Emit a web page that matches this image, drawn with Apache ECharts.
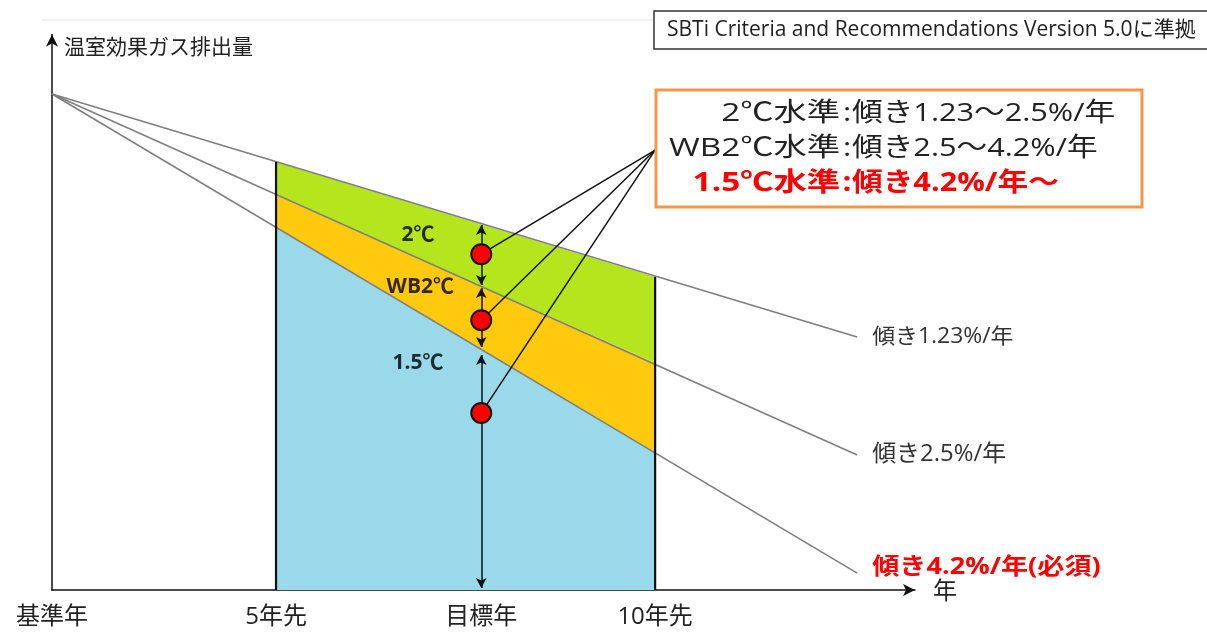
<!DOCTYPE html>
<html><head><meta charset="utf-8">
<script src="https://cdn.jsdelivr.net/npm/echarts@6.0.0/dist/echarts.min.js"></script>
<style>html,body{margin:0;padding:0;background:#fff}#c{width:1207px;height:633px}</style>
</head><body><div id="c"></div>
<script>
// ---- data ----
const xTickValues = [0, 5, 9.58, 13.46];
const xTickLabels = ['基準年', '5年先', '目標年', '10年先'];
const slopeNames = ['傾き1.23%/年', '傾き2.5%/年', '傾き4.2%/年(必須)'];
const baseValue = [0, 100];
const lineEndX = 17.97;
const lineEndY = [51.0, 27.2, 3.4];
const bandX = [5, 13.46];
const line1At = [86.3, 63.1];
const line2At = [79.6, 45.8];
const line3At = [73.0, 27.8];
const zeroAt = [0, 0];
const targetX = 9.58;
const arrowSegments = [[73.6, 61.5], [60.9, 49.0], [47.4, 0.4]];
const dotValues = [67.7, 54.4, 35.7];
const leaderTarget = [13.46, 88.7];
const zoneNames = ['2℃', 'WB2℃', '1.5℃'];
const zoneX = [8.17, 8.22, 8.17];
const zoneY = [71.5, 61.0, 45.8];
const calloutLeft = ['2℃水準', 'WB2℃水準', '1.5℃水準'];
const calloutRight = ['傾き1.23～2.5%/年', '傾き2.5～4.2%/年', '傾き4.2%/年～'];
const noteText = 'SBTi Criteria and Recommendations Version 5.0に準拠';
const yAxisName = '温室効果ガス排出量';
const xAxisName = '年';

const FONT = '"Noto Sans CJK JP", "Noto Sans", sans-serif';
const MIXED = '"Open Sans", "Noto Sans CJK JP", sans-serif';
const chart = echarts.init(document.getElementById('c'), null, {renderer: 'canvas'});

const bandColors = ['#99d9ea', '#ffc90e', '#b5e61d'];
const bands = [[zeroAt, line3At], [line3At, line2At], [line2At, line1At]];

const series = [];
// bands
series.push({
  type: 'custom', z: 1, silent: true,
  data: bands.map(b => [bandX[0], bandX[1], b[0][0], b[0][1], b[1][0], b[1][1]]),
  renderItem: function (params, api) {
    const x0 = api.value(0), x1 = api.value(1);
    const pts = [
      api.coord([x0, api.value(2)]), api.coord([x1, api.value(3)]),
      api.coord([x1, api.value(5)]), api.coord([x0, api.value(4)])
    ];
    return {type: 'polygon', shape: {points: pts}, style: {fill: bandColors[params.dataIndex], stroke: null}};
  }
});
// slope lines
slopeNames.forEach((n, i) => {
  series.push({
    type: 'line', name: n, z: 3, symbol: 'none', silent: true,
    data: [baseValue, [lineEndX, lineEndY[i]]],
    lineStyle: {color: '#7f7f7f', width: 1.6}
  });
});
// vertical edges at 5年先 and 10年先
series.push({type: 'line', z: 4, symbol: 'none', silent: true, data: [[bandX[0], 0], [bandX[0], line1At[0]]], lineStyle: {color: '#111', width: 2.2}});
series.push({type: 'line', z: 4, symbol: 'none', silent: true, data: [[bandX[1], 0], [bandX[1], line1At[1]]], lineStyle: {color: '#111', width: 2.2}});
// zone labels
series.push({
  type: 'scatter', z: 5, symbolSize: 0, silent: true,
  data: zoneNames.map((n, i) => ({value: [zoneX[i], zoneY[i]], name: n})),
  label: {show: true, position: 'inside', formatter: p => p.name, fontFamily: MIXED, fontSize: 21, fontWeight: 'bold',
    color: '#000', textBorderWidth: 0, textBorderColor: 'transparent'}
});
// arrows + leaders + dots
series.push({
  type: 'scatter', z: 8, silent: true,
  symbolSize: 20,
  itemStyle: {color: '#ff0000', borderColor: '#111', borderWidth: 2, opacity: 1},
  data: dotValues.map(v => [targetX, v]),
  markLine: {
    silent: true, animation: false, z: 6,
    label: {show: false},
    data: arrowSegments.map(s => [
      {coord: [targetX, s[0]], symbol: 'arrow', symbolSize: [8, 10], lineStyle: {color: '#111', width: 1.5, type: 'solid'}},
      {coord: [targetX, s[1]], symbol: 'arrow', symbolSize: [8, 10]}
    ]).concat(dotValues.map(v => [
      {coord: [targetX, v], symbol: 'none', lineStyle: {color: '#111', width: 1.5, type: 'solid'}},
      {coord: leaderTarget, symbol: 'none'}
    ]))
  }
});

chart.setOption({
  animation: false,
  backgroundColor: '#fff',
  grid: {left: 52, right: 292, top: 34.5, bottom: 43, containLabel: false, outerBoundsMode: 'none'},
  xAxis: {
    type: 'value', min: 0, max: 19.26,
    name: xAxisName, nameLocation: 'end', nameGap: 18,
    nameTextStyle: {fontFamily: FONT, fontSize: 24, color: '#222', align: 'left', verticalAlign: 'middle', padding: [6, 0, 0, 0]},
    axisLine: {show: true, lineStyle: {color: '#111', width: 1.5}, symbol: ['none', 'arrow'], symbolSize: [9, 12]},
    axisTick: {show: false},
    splitLine: {show: false},
    axisLabel: {
      show: true, customValues: xTickValues, margin: 15,
      formatter: v => { const i = xTickValues.findIndex(t => Math.abs(t - v) < 1e-6); return i >= 0 ? xTickLabels[i] : ''; },
      fontFamily: MIXED, fontSize: 24, color: '#222'
    }
  },
  yAxis: {
    type: 'value', min: 0, max: 112,
    name: yAxisName, nameLocation: 'end', nameGap: -12,
    nameTextStyle: {fontFamily: FONT, fontSize: 21, color: '#222', align: 'left', verticalAlign: 'middle', padding: [0, 0, 0, 12]},
    axisLine: {show: true, lineStyle: {color: '#111', width: 1.5}, symbol: ['none', 'arrow'], symbolSize: [9, 12]},
    axisTick: {show: false}, axisLabel: {show: false}, splitLine: {show: false}
  },
  series: series
});

// annotation texts (line-end labels placed from the axis scale)
const endLabelStyles = [
  {font: '21px ' + MIXED, fill: '#333', sx: 1.09, dy: 0},
  {font: '23px ' + MIXED, fill: '#333', sx: 1.04, dy: -1},
  {font: 'bold 23px ' + MIXED, fill: '#ff0000', sx: 1.18, dy: -6}
];
const graphic = [
  {type: 'line', shape: {x1: 42, y1: 20, x2: 930, y2: 20}, style: {stroke: '#e3e3e3', lineWidth: 1}, z: 0},
  {type: 'rect', shape: {x: 654, y: 11, width: 570, height: 38}, style: {fill: '#fff', stroke: '#333', lineWidth: 1.5}, z: 10},
  {type: 'text', x: 667, y: 30, style: {text: noteText, font: '21px ' + MIXED, fill: '#222', verticalAlign: 'middle', textAlign: 'left'}, z: 11},
  {type: 'rect', shape: {x: 656, y: 90, width: 486, height: 117}, style: {fill: '#fff', stroke: '#f79646', lineWidth: 3}, z: 10}
];
slopeNames.forEach((n, i) => {
  const p = chart.convertToPixel({gridIndex: 0}, [lineEndX, lineEndY[i]]);
  const s = endLabelStyles[i];
  graphic.push({type: 'text', x: p[0] + 15, y: p[1] + s.dy, scaleX: s.sx, z: 11,
    style: {text: n, font: s.font, fill: s.fill, textAlign: 'left', verticalAlign: 'middle'}});
});
const rowY = [114, 149, 184];
calloutLeft.forEach((t, i) => {
  const red = i === 2;
  const f = (red ? 'bold ' : '') + '26px ' + MIXED;
  const col = red ? '#ff0000' : '#222';
  graphic.push({type: 'text', x: 840, y: rowY[i], scaleX: 1.28, z: 11, style: {text: t, font: f, fill: col, textAlign: 'right', verticalAlign: 'middle'}});
  graphic.push({type: 'text', x: 847, y: rowY[i], scaleX: 1.2, z: 11, style: {text: ':', font: f, fill: col, textAlign: 'center', verticalAlign: 'middle'}});
  graphic.push({type: 'text', x: 852, y: rowY[i], scaleX: 1.18, z: 11, style: {text: calloutRight[i], font: f, fill: col, textAlign: 'left', verticalAlign: 'middle'}});
});
chart.setOption({graphic: graphic});
</script></body></html>
